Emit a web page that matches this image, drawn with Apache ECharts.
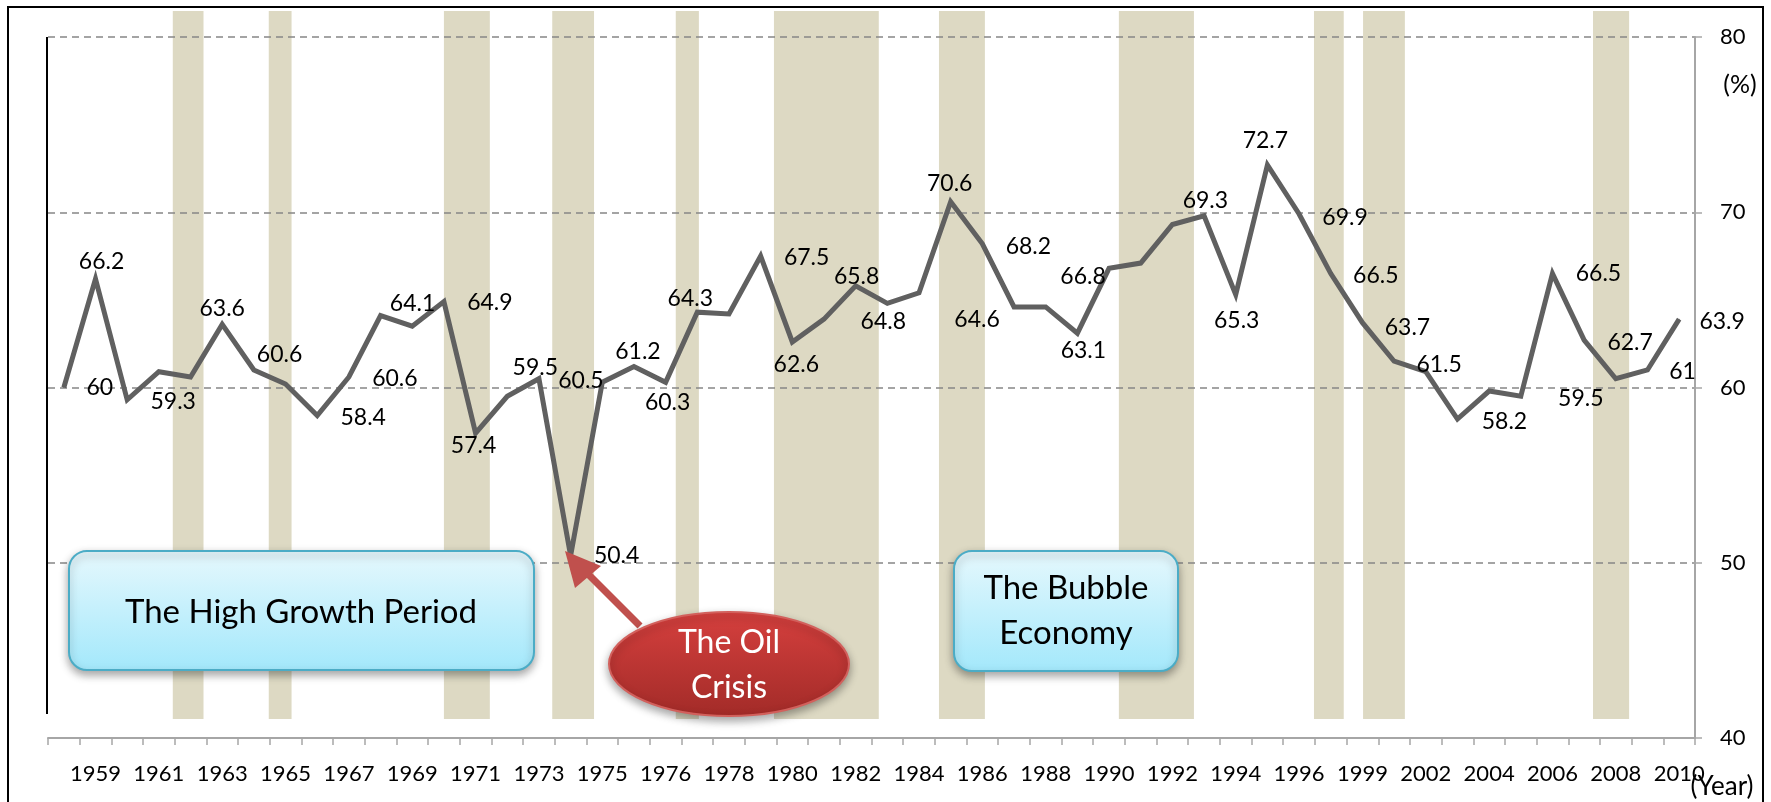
<!DOCTYPE html>
<html>
<head>
<meta charset="utf-8">
<script src="https://cdn.jsdelivr.net/npm/echarts@6/dist/echarts.min.js"></script>
<style>
  html, body { margin: 0; padding: 0; background: #fff; }
  #chart { width: 1771px; height: 802px; }
</style>
</head>
<body>
<div id="chart"></div>
<script>
// ---------------- DATA ----------------
// Category slots along the x axis (the source axis is irregular around 1975 and 1997-2001)
const categories = [
  '1958','1959','1960','1961','1962','1963','1964','1965','1966','1967',
  '1968','1969','1970','1971','1972','1973','1974','1975','1975*','1976',
  '1977','1978','1979','1980','1981','1982','1983','1984','1985','1986',
  '1987','1988','1989','1990','1991','1992','1993','1994','1995','1996',
  '1997','1999','2000','2002','2003','2004','2005','2006','2007','2008',
  '2009','2010'
];
// Visible tick labels (every second slot)
const tickLabels = ['1959','1961','1963','1965','1967','1969','1971','1973','1975','1976',
  '1978','1980','1982','1984','1986','1988','1990','1992','1994','1996','1999','2002',
  '2004','2006','2008','2010'];

// Series values (%)
const values = [
  60, 66.2, 59.3, 60.9, 60.6, 63.6, 61.0, 60.2, 58.4, 60.6,
  64.1, 63.5, 64.9, 57.4, 59.5, 60.5, 50.4, 60.3, 61.2, 60.3,
  64.3, 64.2, 67.5, 62.6, 63.9, 65.8, 64.8, 65.4, 70.6, 68.2,
  64.6, 64.6, 63.1, 66.8, 67.1, 69.3, 69.8, 65.3, 72.7, 69.9,
  66.5, 63.7, 61.5, 60.9, 58.2, 59.8, 59.5, 66.5, 62.7, 60.5,
  61, 63.9
];

// Recession periods, in category-slot units along the axis (start, end)
const recessionStart = [3.94, 6.97, 12.50, 15.92, 19.82, 22.92, 28.13, 33.81, 39.97, 41.52, 48.78];
const recessionEnd   = [4.91, 7.69, 13.95, 17.24, 20.55, 26.23, 29.58, 36.18, 40.91, 42.84, 49.92];

// Right axis ticks
const yMin = 40, yMax = 80, yStep = 10;

// ---------------- STYLE ----------------
const FONT = 'Lato';
// data label placement (offset of label centre from the point), by point index
const labelOffsets = {
  0:[36,0], 1:[6,-17], 2:[46,2], 4:[89,-22], 5:[0,-16], 8:[46,2], 9:[46,2], 10:[32,-12],
  12:[46,1], 13:[-2,13], 14:[28,-29], 15:[42,2], 16:[46,0], 18:[4,-15], 19:[2,20],
  20:[-7,-14], 22:[46,2], 23:[4,23], 25:[1,-9], 26:[-4,18], 28:[-1,-18], 29:[46,3],
  30:[-37,13], 32:[6,17], 33:[-26,8], 35:[33,-24], 37:[1,26], 38:[-2,-24], 39:[46,4],
  40:[45,2], 41:[45,5], 42:[45,3], 44:[47,3], 46:[60,2], 47:[46,0], 48:[46,2],
  50:[35,2], 51:[43,2]
};

const bands = recessionStart.map((s, i) => [s, recessionEnd[i]]);
const lineData = values.map((v, i) => labelOffsets[i]
  ? { value: v, label: { show: true, offset: labelOffsets[i] } }
  : v);

const chart = echarts.init(document.getElementById('chart'), null, { renderer: 'canvas' });

const grad = (c1, c2) => new echarts.graphic.LinearGradient(0, 0, 0, 1, [
  { offset: 0, color: c1 }, { offset: 1, color: c2 }
]);

const option = {
  backgroundColor: '#ffffff',
  animation: false,
  grid: [
    { left: 48, right: 76, top: 37, bottom: 64 },
    { left: 48, right: 76, top: 11, bottom: 83 }
  ],
  xAxis: [
    {
      type: 'category', gridIndex: 0, data: categories, boundaryGap: true,
      axisLine: { show: true, lineStyle: { color: '#a6a6a6', width: 2 } },
      axisTick: { show: true, interval: 0, length: 7, lineStyle: { color: '#a6a6a6', width: 1.5 } },
      axisLabel: {
        interval: (idx) => idx % 2 === 1,
        formatter: (v, idx) => tickLabels[(idx - 1) / 2] || v,
        margin: 25, fontFamily: FONT, fontSize: 22, color: '#000'
      },
      splitLine: { show: false }
    },
    { type: 'value', gridIndex: 1, min: 0, max: categories.length, show: false }
  ],
  yAxis: [
    {
      type: 'value', gridIndex: 0, position: 'right', min: yMin, max: yMax, interval: yStep,
      axisLine: { show: true, lineStyle: { color: '#a6a6a6', width: 2 } },
      axisTick: { show: true, length: 7, lineStyle: { color: '#a6a6a6', width: 1.5 } },
      axisLabel: { margin: 25, fontFamily: FONT, fontSize: 22, color: '#000' },
      splitLine: { show: true, lineStyle: { color: '#868686', width: 1.6, type: [7, 5] } }
    },
    { type: 'value', gridIndex: 1, min: 0, max: 1, show: false }
  ],
  series: [
    {
      type: 'custom', xAxisIndex: 1, yAxisIndex: 1, z: -1, silent: true,
      data: bands,
      encode: { x: [0, 1] },
      renderItem: (params, api) => {
        const a = api.coord([api.value(0), 1]);
        const b = api.coord([api.value(1), 0]);
        return { type: 'rect', shape: { x: a[0], y: a[1], width: b[0] - a[0], height: b[1] - a[1] },
          style: { fill: '#ddd9c3' } };
      }
    },
    {
      type: 'line', xAxisIndex: 0, yAxisIndex: 0, data: lineData, z: 3,
      symbol: 'circle', symbolSize: 1, showSymbol: true,
      itemStyle: { color: '#606060' },
      lineStyle: { color: '#606060', width: 5, join: 'miter', miterLimit: 8 },
      label: {
        show: false, position: 'inside', fontFamily: FONT, fontSize: 23, color: '#000',
        align: 'center', verticalAlign: 'middle',
        formatter: (p) => String(p.value)
      }
    }
  ],
  graphic: [
    { type: 'rect', z: 200, shape: { x: 8, y: 7, width: 1755, height: 820 },
      style: { fill: null, stroke: '#000', lineWidth: 2 } },
    { type: 'line', z: 200, shape: { x1: 47, y1: 37, x2: 47, y2: 714 },
      style: { stroke: '#000', lineWidth: 2 } },
    // High growth box
    { type: 'rect', z: 100, shape: { x: 69, y: 551, width: 465, height: 119, r: 18 },
      style: { fill: grad('#e6f8fd', '#a3e8fb'), stroke: '#4bacc6', lineWidth: 2,
        shadowBlur: 8, shadowOffsetY: 4, shadowColor: 'rgba(0,0,0,0.35)' } },
    { type: 'text', z: 101, x: 301, y: 612,
      style: { text: 'The High Growth Period', font: '33px ' + FONT, fill: '#000',
        align: 'center', verticalAlign: 'middle' } },
    // Bubble box
    { type: 'rect', z: 100, shape: { x: 954, y: 551, width: 224, height: 120, r: 18 },
      style: { fill: grad('#e6f8fd', '#a3e8fb'), stroke: '#4bacc6', lineWidth: 2,
        shadowBlur: 8, shadowOffsetY: 4, shadowColor: 'rgba(0,0,0,0.35)' } },
    { type: 'text', z: 101, x: 1066, y: 611,
      style: { text: 'The Bubble\nEconomy', font: '33px ' + FONT, fill: '#000', lineHeight: 45,
        align: 'center', verticalAlign: 'middle' } },
    // Oil crisis arrow
    { type: 'line', z: 100, shape: { x1: 640, y1: 626, x2: 585, y2: 571 },
      style: { stroke: '#c0504d', lineWidth: 7 } },
    { type: 'polygon', z: 100, shape: { points: [[565, 551], [601, 566], [575, 588]] },
      style: { fill: '#c0504d' } },
    // Oil crisis ellipse
    { type: 'ellipse', z: 100, shape: { cx: 729, cy: 664, rx: 120, ry: 52 },
      style: { fill: grad('#d6403e', '#a22b28'), stroke: '#d2605c', lineWidth: 2,
        shadowBlur: 8, shadowOffsetY: 4, shadowColor: 'rgba(0,0,0,0.35)' } },
    { type: 'text', z: 101, x: 729, y: 665,
      style: { text: 'The Oil\nCrisis', font: '32px ' + FONT, fill: '#fff', lineHeight: 45,
        align: 'center', verticalAlign: 'middle' } },
    // unit labels
    { type: 'text', z: 101, x: 1740, y: 85,
      style: { text: '(%)', font: '25px ' + FONT, fill: '#000', align: 'center', verticalAlign: 'middle' } },
    { type: 'text', z: 101, x: 1722, y: 787,
      style: { text: '(Year)', font: '26px ' + FONT, fill: '#000', align: 'center', verticalAlign: 'middle' } }
  ]
};

chart.setOption(option);
</script>
</body>
</html>
